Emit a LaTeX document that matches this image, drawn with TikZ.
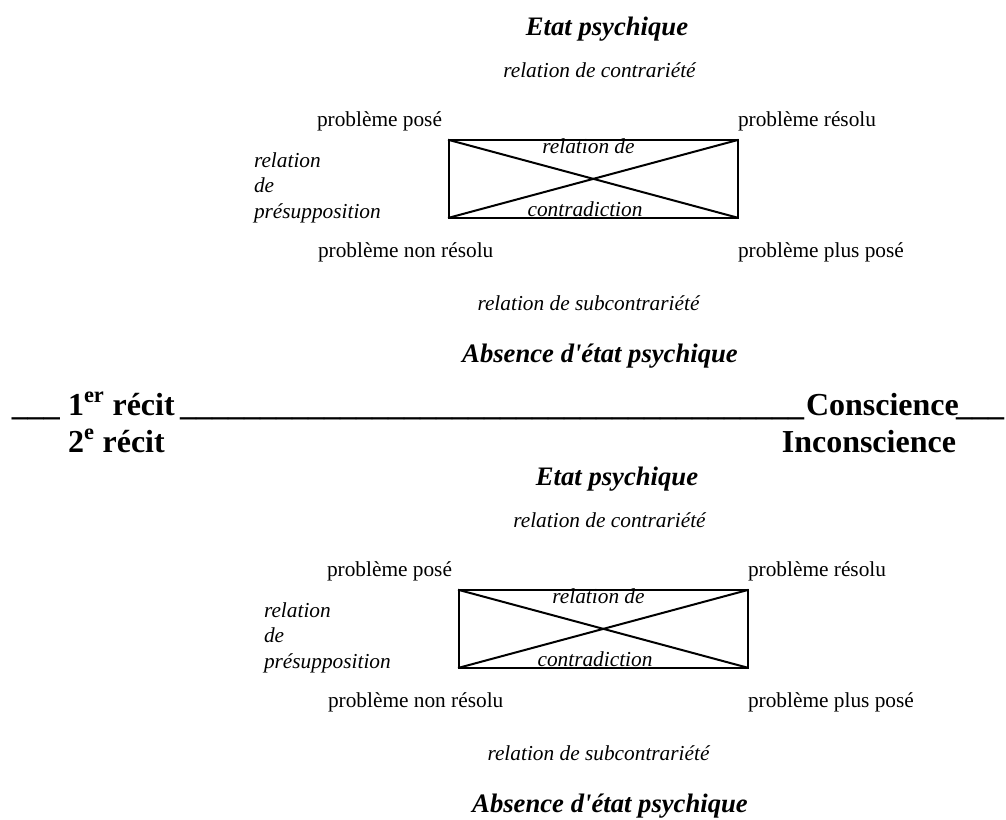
\documentclass[tikz,border=0pt]{standalone}
\usepackage{fontspec}
\setmainfont{Liberation Serif}
\begin{document}
\begin{tikzpicture}[x=0.75pt,y=-0.75pt,
  reg/.style={font=\fontsize{16}{19}\selectfont, inner sep=0pt, outer sep=0pt},
  ital/.style={font=\fontsize{16}{19}\selectfont\itshape, inner sep=0pt, outer sep=0pt},
  titre/.style={font=\fontsize{20}{24}\selectfont\bfseries\itshape, inner sep=0pt, outer sep=0pt},
  entete/.style={font=\fontsize{24}{28}\selectfont\bfseries, inner sep=0pt, outer sep=0pt},
  cadre/.style={line width=1.5pt, line cap=rect}]
\useasboundingbox (0,0) rectangle (1006,819);
\foreach \s/\dx/\dy in {a/0/0, b/10/450}{
\begin{scope}[shift={(\dx,\dy)}]
  \node[titre, anchor=base] (etat\s) at (607,35) {Etat psychique};
  \node[ital, anchor=base] (contr\s) at (599.5,77) {relation de contrariété};
  \node[reg, anchor=base west] (pp\s) at (317,126) {problème posé};
  \node[reg, anchor=base west] (pr\s) at (738,126) {problème résolu};
  \node[ital, anchor=base west] (rel\s) at (254,167) {relation};
  \node[ital, anchor=base west] (de\s) at (254,192.5) {de};
  \node[ital, anchor=base west] (pres\s) at (254,218) {présupposition};
  \coordinate (tl\s) at (449,140);
  \coordinate (tr\s) at (737.7,140);
  \coordinate (bl\s) at (449,217.7);
  \coordinate (br\s) at (737.7,217.7);
  \draw[cadre] (tl\s) rectangle (br\s);
  \draw[cadre] (tl\s) -- (br\s);
  \draw[cadre] (bl\s) -- (tr\s);
  \node[ital, anchor=base] (rd\s) at (588.5,153) {relation de};
  \node[ital, anchor=base] (cd\s) at (585,216) {contradiction};
  \node[reg, anchor=base west] (pnr\s) at (318,257) {problème non résolu};
  \node[reg, anchor=base west] (ppp\s) at (738,257) {problème plus posé};
  \node[ital, anchor=base] (sub\s) at (588.5,310) {relation de subcontrariété};
  \node[titre, anchor=base] (abs\s) at (600,362) {Absence d\textquotesingle état psychique};
\end{scope}
}
\node[entete, anchor=base west] (u1) at (12,415) {\_\_\_};
\node[entete, anchor=base west] (r1) at (68,415) {1\textsuperscript{er} récit};
\node[entete, anchor=base west] (u2) at (180,415) {\_\_\_\_\_\_\_\_\_\_\_\_\_\_\_\_\_\_\_\_\_\_\_\_\_\_\_\_\_\_\_\_\_\_\_\_\_\_\_};
\node[entete, anchor=base west] (cons) at (806,415) {Conscience};
\node[entete, anchor=base west] (u3) at (956,415) {\_\_\_};
\node[entete, anchor=base west] (r2) at (68,452) {2\textsuperscript{e} récit};
\node[entete, anchor=base east] (incons) at (956,452) {Inconscience};
\end{tikzpicture}
\end{document}
